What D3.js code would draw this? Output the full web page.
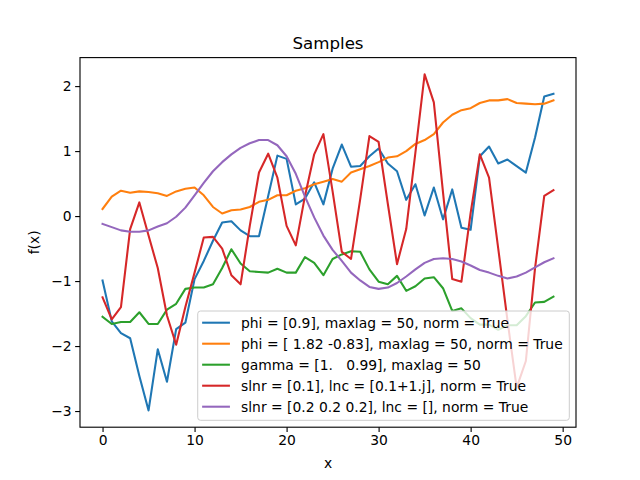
<!DOCTYPE html>
<html>
<head>
<meta charset="utf-8">
<script src="https://cdn.jsdelivr.net/npm/d3@7"></script>
<style>
  body { margin: 0; background: #fff; }
  svg { display: block; }
  text { font-family: "DejaVu Sans", sans-serif; fill: #000; }
</style>
</head>
<body>
<svg id="chart" width="640" height="480"></svg>
<script>
// ---- data ----
const xs = d3.range(50);
const phi09 = [-0.99,-1.62,-1.80,-1.88,-2.46,-2.99,-2.05,-2.55,-1.74,-1.64,-0.97,-0.69,-0.38,-0.10,-0.08,-0.22,-0.31,-0.31,0.31,0.93,0.88,0.18,0.27,0.52,0.18,0.73,1.10,0.76,0.77,0.92,1.04,0.81,0.69,0.25,0.49,0.01,0.44,-0.05,0.41,-0.18,-0.21,0.92,1.07,0.81,0.87,0.77,0.67,1.21,1.84,1.88];
const phi182 = [0.11,0.30,0.39,0.36,0.38,0.37,0.35,0.31,0.38,0.42,0.44,0.32,0.14,0.04,0.09,0.10,0.14,0.22,0.25,0.32,0.32,0.39,0.43,0.49,0.53,0.57,0.53,0.67,0.72,0.77,0.83,0.90,0.92,1.00,1.11,1.17,1.26,1.44,1.56,1.63,1.66,1.74,1.78,1.78,1.80,1.74,1.73,1.72,1.73,1.78];
const gamma = [-1.55,-1.66,-1.63,-1.63,-1.48,-1.66,-1.66,-1.44,-1.35,-1.12,-1.10,-1.10,-1.05,-0.80,-0.51,-0.73,-0.85,-0.86,-0.87,-0.81,-0.87,-0.87,-0.63,-0.72,-0.91,-0.66,-0.59,-0.54,-0.55,-0.82,-1.01,-1.05,-0.92,-1.15,-1.08,-0.96,-0.94,-1.11,-1.46,-1.42,-1.57,-1.67,-1.67,-1.75,-1.68,-1.68,-1.54,-1.33,-1.32,-1.24];
const slnr01 = [-1.25,-1.59,-1.40,-0.20,0.21,-0.30,-0.80,-1.53,-1.98,-1.40,-0.87,-0.33,-0.32,-0.50,-0.91,-1.05,-0.15,0.67,0.96,0.59,-0.15,-0.45,0.31,0.95,1.26,0.38,-0.55,-0.66,0.26,1.23,1.14,0.19,-0.74,-0.20,0.98,2.18,1.75,0.36,-0.97,-1.01,0.05,0.95,0.59,-0.50,-1.60,-2.64,-2.23,-0.80,0.31,0.40];
const slnr02 = [-0.12,-0.17,-0.22,-0.24,-0.24,-0.22,-0.16,-0.11,-0.01,0.13,0.32,0.51,0.69,0.83,0.95,1.05,1.12,1.17,1.17,1.09,0.92,0.65,0.30,-0.02,-0.30,-0.52,-0.69,-0.87,-0.99,-1.09,-1.12,-1.10,-1.03,-0.93,-0.82,-0.72,-0.66,-0.65,-0.66,-0.70,-0.76,-0.83,-0.87,-0.92,-0.96,-0.93,-0.87,-0.79,-0.71,-0.65];
const seriesLabels = [
  "phi = [0.9], maxlag = 50, norm = True",
  "phi = [ 1.82 -0.83], maxlag = 50, norm = True",
  "gamma = [1.   0.99], maxlag = 50",
  "slnr = [0.1], lnc = [0.1+1.j], norm = True",
  "slnr = [0.2 0.2 0.2], lnc = [], norm = True"
];
const xTicks = [0, 10, 20, 30, 40, 50];
const yTicks = [-3, -2, -1, 0, 1, 2];
const titleText = "Samples";
const xLabel = "x";
const yLabel = "f(x)";

// ---- layout ----
const colors = ["#1f77b4", "#ff7f0e", "#2ca02c", "#d62728", "#9467bd"];
const allSeries = [phi09, phi182, gamma, slnr01, slnr02];
const L = 80, R = 576, T = 57.6, B = 427.2;
const fs = 13.89;
const lw = 2.08;

const svg = d3.select("#chart");

const xMin = d3.min(xs), xMax = d3.max(xs);
const xPad = (xMax - xMin) * 0.05;
const yMin = d3.min(allSeries.flat()), yMax = d3.max(allSeries.flat());
const yPad = (yMax - yMin) * 0.05;

const x = d3.scaleLinear().domain([xMin - xPad, xMax + xPad]).range([L, R]);
const y = d3.scaleLinear().domain([yMin - yPad, yMax + yPad]).range([B, T]);

// lines
const line = d3.line().x((d, i) => x(xs[i])).y(d => y(d));
const plot = svg.append("g");
allSeries.forEach((s, k) => {
  plot.append("path")
    .datum(s)
    .attr("d", line)
    .attr("fill", "none")
    .attr("stroke", colors[k])
    .attr("stroke-width", lw)
    .attr("stroke-linejoin", "round")
    .attr("stroke-linecap", "square");
});

// axes
const xAxis = d3.axisBottom(x).tickValues(xTicks).tickSize(4.86).tickPadding(3.5)
  .tickFormat(d3.format("d"));
const yAxis = d3.axisLeft(y).tickValues(yTicks).tickSize(4.86).tickPadding(3.5)
  .tickFormat(d => d < 0 ? "\u2212" + Math.abs(d) : String(d));

const gx = svg.append("g").attr("transform", `translate(0,${B})`).call(xAxis);
const gy = svg.append("g").attr("transform", `translate(${L},0)`).call(yAxis);
[gx, gy].forEach(g => {
  g.select(".domain").remove();
  g.selectAll(".tick line").attr("stroke", "#000").attr("stroke-width", 1.11);
  g.selectAll(".tick text").attr("font-size", fs).attr("font-family", "DejaVu Sans").attr("fill", "#000");
});
gy.selectAll(".tick text").attr("dy", "0.34em");

// frame
svg.append("rect")
  .attr("x", L).attr("y", T).attr("width", R - L).attr("height", B - T)
  .attr("fill", "none").attr("stroke", "#000").attr("stroke-width", 1.11);

// title / labels
svg.append("text").attr("x", (L + R) / 2).attr("y", 49.3)
  .attr("text-anchor", "middle").attr("font-size", 16.67).text(titleText);
svg.append("text").attr("x", (L + R) / 2).attr("y", 467.5)
  .attr("text-anchor", "middle").attr("font-size", fs).text(xLabel);
svg.append("text")
  .attr("transform", `translate(39,${(T + B) / 2}) rotate(-90)`)
  .attr("text-anchor", "middle").attr("font-size", fs).text(yLabel);

// legend
const lg = svg.append("g");
const legRight = 569.3, legBottom = 420.3;
const rowH = 21;
const box = lg.append("rect");
const texts = [];
seriesLabels.forEach((lab, k) => {
  const t = lg.append("text")
    .attr("font-size", fs)
    .attr("xml:space", "preserve")
    .style("white-space", "pre")
    .text(lab);
  texts.push(t);
});
const maxW = d3.max(texts, t => t.node().getComputedTextLength());
const textX = legRight - 6.6 - maxW;
const handleX1 = textX - 11.1 - 27.8;
const legLeft = handleX1 - 4.4;
const legTop = legBottom - 109.3;
box.attr("x", legLeft).attr("y", legTop)
  .attr("width", legRight - legLeft).attr("height", legBottom - legTop)
  .attr("rx", 2.8).attr("ry", 2.8)
  .attr("fill", "#fff").attr("fill-opacity", 0.8)
  .attr("stroke", "#cccccc").attr("stroke-width", 1);
seriesLabels.forEach((lab, k) => {
  const cy = legTop + 11.7 + k * rowH;
  lg.append("line")
    .attr("x1", handleX1).attr("x2", handleX1 + 27.8)
    .attr("y1", cy).attr("y2", cy)
    .attr("stroke", colors[k]).attr("stroke-width", lw);
  texts[k].attr("x", textX).attr("y", cy + 4.9);
});
</script>
</body>
</html>
